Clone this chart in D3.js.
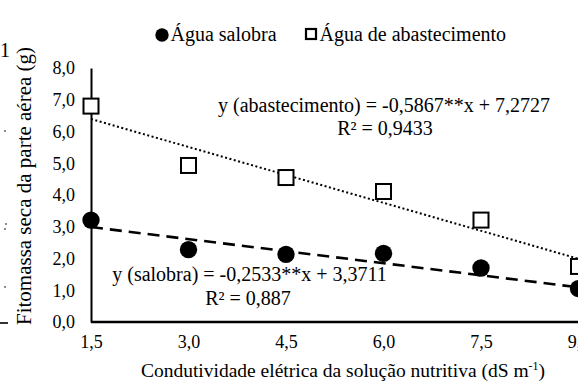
<!DOCTYPE html>
<html>
<head>
<meta charset="utf-8">
<script src="https://cdn.jsdelivr.net/npm/d3@7"></script>
<style>
  html, body { margin: 0; padding: 0; background: #fff; }
  svg { display: block; }
</style>
</head>
<body>
<svg id="chart" width="578" height="387"></svg>
<script>
// Condutividade elétrica da solução nutritiva (dS m-1)
const condutividade = [1.5, 3.0, 4.5, 6.0, 7.5, 9.0];
// Fitomassa seca da parte aérea (g)
const salobra = [3.21, 2.28, 2.13, 2.16, 1.70, 1.05];
const abastecimento = [6.80, 4.93, 4.55, 4.11, 3.21, 1.75];
// Regression coefficients [slope, intercept]
const regSalobra = [-0.2533, 3.3711];
const regAbastecimento = [-0.5867, 7.2727];
const xTicks = [1.5, 3.0, 4.5, 6.0, 7.5, 9.0];
const yTicks = [0, 1, 2, 3, 4, 5, 6, 7, 8];
const seriesNames = ["Água salobra", "Água de abastecimento"];

const FONT = "'Liberation Serif', 'Times New Roman', serif";
const svg = d3.select("#chart").style("font-family", FONT);
const fmt = d => d.toFixed(1).replace(".", ",");
const serif = (sel, size) => sel.style("font-family", FONT).style("font-size", size + "px").attr("fill", "#000");

const x = d3.scaleLinear().domain([1.5, 9]).range([91, 578.5]);
const y = d3.scaleLinear().domain([0, 8]).range([322, 68]);

// y axis
const yAxis = svg.append("g")
  .attr("transform", `translate(${x(1.5)},0)`)
  .call(d3.axisLeft(y).tickValues(yTicks).tickFormat(fmt).tickSize(0).tickPadding(16));
yAxis.select(".domain").attr("stroke", "#000").attr("stroke-width", 2);
serif(yAxis.selectAll("text"), 18);

// x axis
const xAxis = svg.append("g")
  .attr("transform", `translate(0,${y(0)})`)
  .call(d3.axisBottom(x).tickValues(xTicks).tickFormat(fmt).tickSize(0).tickPadding(13));
xAxis.select(".domain").attr("stroke", "#000").attr("stroke-width", 2.5)
  .attr("d", `M${x(1.5)},0H578`);
serif(xAxis.selectAll("text"), 18);

// trend lines
const ends = [1.5, 9];
const line = d3.line().x(d => x(d[0])).y(d => y(d[1]));
svg.append("path")
  .attr("d", line(ends.map(v => [v, regAbastecimento[0] * v + regAbastecimento[1]])))
  .attr("fill", "none").attr("stroke", "#000").attr("stroke-width", 2)
  .attr("stroke-dasharray", "2,2.5");
svg.append("path")
  .attr("d", line(ends.map(v => [v, regSalobra[0] * v + regSalobra[1]])))
  .attr("fill", "none").attr("stroke", "#000").attr("stroke-width", 2.6)
  .attr("stroke-dasharray", "12,7");

// markers
svg.append("g").selectAll("rect")
  .data(condutividade.map((c, i) => [c, abastecimento[i]]))
  .join("rect")
  .attr("x", d => x(d[0]) - 7.5).attr("y", d => y(d[1]) - 7.5)
  .attr("width", 15).attr("height", 15)
  .attr("fill", "#fff").attr("stroke", "#000").attr("stroke-width", 2);
svg.append("g").selectAll("circle")
  .data(condutividade.map((c, i) => [c, salobra[i]]))
  .join("circle")
  .attr("cx", d => x(d[0])).attr("cy", d => y(d[1])).attr("r", 8.7)
  .attr("fill", "#000");

// equations
const eqs = [
  { t: "y (abastecimento) = -0,5867**x + 7,2727", x: 384, y: 112 },
  { t: "R² = 0,9433", x: 385, y: 135 },
  { t: "y (salobra) = -0,2533**x + 3,3711", x: 249.5, y: 281 },
  { t: "R² = 0,887", x: 248, y: 305 }
];
serif(svg.append("g").selectAll("text").data(eqs).join("text")
  .attr("x", d => d.x).attr("y", d => d.y).attr("text-anchor", "middle")
  .text(d => d.t), 20);

// legend
svg.append("circle").attr("cx", 162).attr("cy", 35).attr("r", 6.7).attr("fill", "#000");
serif(svg.append("text").attr("x", 170.5).attr("y", 41).text(seriesNames[0]), 20);
svg.append("rect").attr("x", 306).attr("y", 29).attr("width", 10).attr("height", 10)
  .attr("fill", "#fff").attr("stroke", "#000").attr("stroke-width", 2.2);
serif(svg.append("text").attr("x", 319.5).attr("y", 41).text(seriesNames[1]), 20);

// axis titles
serif(svg.append("text")
  .attr("transform", "translate(31,186) rotate(-90)")
  .attr("text-anchor", "middle")
  .text("Fitomassa seca da parte aérea (g)"), 21);
const xt = serif(svg.append("text")
  .attr("x", 343).attr("y", 377).attr("text-anchor", "middle"), 19.5);
xt.append("tspan").text("Condutividade elétrica da solução nutritiva (dS m");
xt.append("tspan").style("font-size", "12px").attr("dy", -7).text("-1");
xt.append("tspan").attr("dy", 7).text(")");

// edge of the neighbouring panel on the left
serif(svg.append("text").attr("x", 0).attr("y", 57).text("1"), 20);
svg.append("g").selectAll("circle")
  .data([[5, 131], [6, 224], [5, 229], [5, 287]])
  .join("circle")
  .attr("cx", d => d[0]).attr("cy", d => d[1]).attr("r", 0.9).attr("fill", "#555");
svg.append("line").attr("x1", 0).attr("x2", 8).attr("y1", 323).attr("y2", 323)
  .attr("stroke", "#000").attr("stroke-width", 1.6);
</script>
</body>
</html>
